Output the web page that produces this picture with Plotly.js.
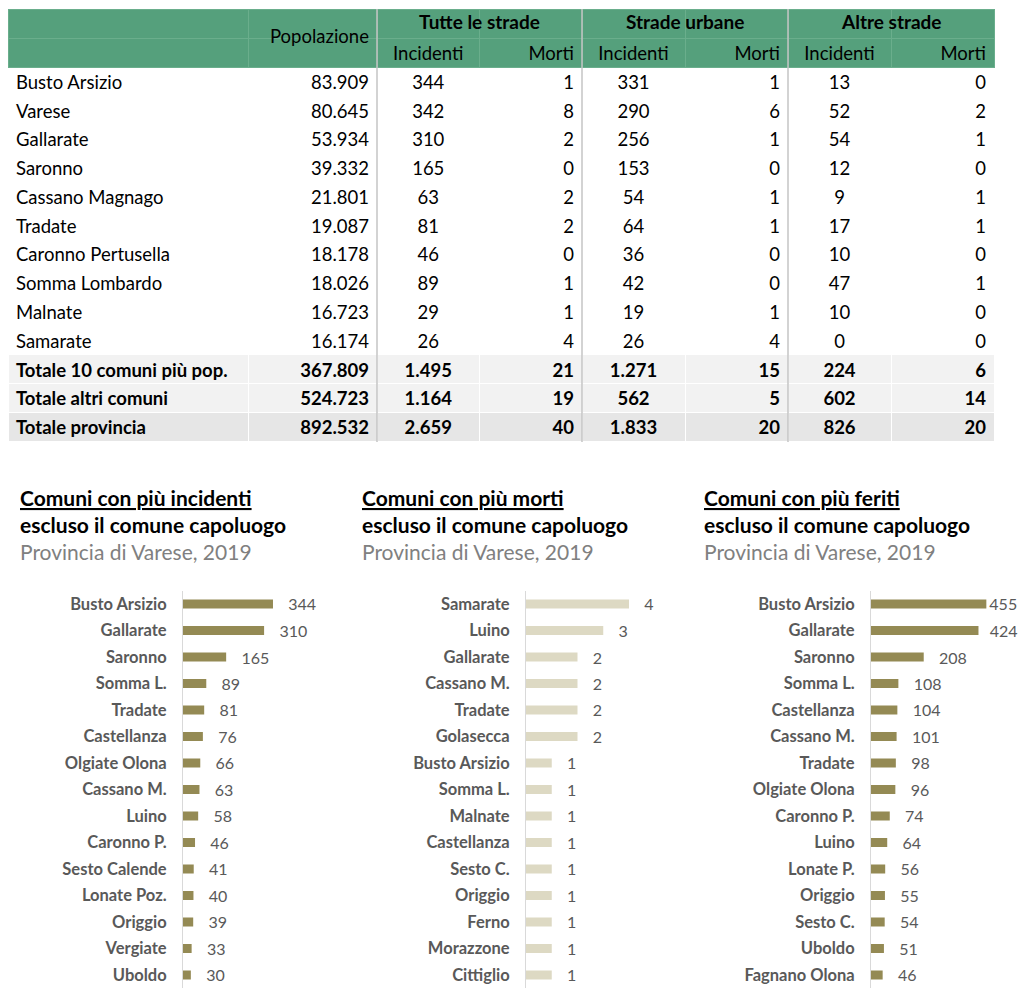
<!DOCTYPE html>
<html>
<head>
<meta charset="utf-8">
<script src="https://cdn.plot.ly/plotly-3.0.1.min.js"></script>
<style>html,body{margin:0;padding:0;background:#fff;}#chart{width:1024px;height:993px;}</style>
</head>
<body>
<div id="chart"></div>
<script>
// ---------- Table data ----------
const comuni = ["Busto Arsizio","Varese","Gallarate","Saronno","Cassano Magnago","Tradate","Caronno Pertusella","Somma Lombardo","Malnate","Samarate","Totale 10 comuni più pop.","Totale altri comuni","Totale provincia"];
const popolazione = [83909,80645,53934,39332,21801,19087,18178,18026,16723,16174,367809,524723,892532];
const tutteIncidenti = [344,342,310,165,63,81,46,89,29,26,1495,1164,2659];
const tutteMorti = [1,8,2,0,2,2,0,1,1,4,21,19,40];
const urbaneIncidenti = [331,290,256,153,54,64,36,42,19,26,1271,562,1833];
const urbaneMorti = [1,6,1,0,1,1,0,0,1,4,15,5,20];
const altreIncidenti = [13,52,54,12,9,17,10,47,10,0,224,602,826];
const altreMorti = [0,2,1,0,1,1,0,1,0,0,6,14,20];
const groupLabels = ["Tutte le strade","Strade urbane","Altre strade"];
const subLabels = ["Incidenti","Morti"];
const popLabel = "Popolazione";

// ---------- Bar chart data ----------
const incComuni = ["Busto Arsizio","Gallarate","Saronno","Somma L.","Tradate","Castellanza","Olgiate Olona","Cassano M.","Luino","Caronno P.","Sesto Calende","Lonate Poz.","Origgio","Vergiate","Uboldo"];
const incValori = [344,310,165,89,81,76,66,63,58,46,41,40,39,33,30];
const mortiComuni = ["Samarate","Luino","Gallarate","Cassano M.","Tradate","Golasecca","Busto Arsizio","Somma L.","Malnate","Castellanza","Sesto C.","Origgio","Ferno","Morazzone","Cittiglio"];
const mortiValori = [4,3,2,2,2,2,1,1,1,1,1,1,1,1,1];
const feritiComuni = ["Busto Arsizio","Gallarate","Saronno","Somma L.","Castellanza","Cassano M.","Tradate","Olgiate Olona","Caronno P.","Luino","Lonate P.","Origgio","Sesto C.","Uboldo","Fagnano Olona"];
const feritiValori = [455,424,208,108,104,101,98,96,74,64,56,55,54,51,46];
const titoli = [
  ["Comuni con più incidenti","escluso il comune capoluogo","Provincia di Varese, 2019"],
  ["Comuni con più morti","escluso il comune capoluogo","Provincia di Varese, 2019"],
  ["Comuni con più feriti","escluso il comune capoluogo","Provincia di Varese, 2019"]
];

// ---------- helpers ----------
const W = 1024, H = 993;
const px = x => x / W;
const py = y => 1 - y / H;
const FONT = "Lato";
const TFS = 18.5;
const fmt = n => String(n).replace(/\B(?=(\d{3})+(?!\d))/g, ".");
const isTot = i => i >= 10;

const numCols = [popolazione, tutteIncidenti, tutteMorti, urbaneIncidenti, urbaneMorti, altreIncidenti, altreMorti];
const cellValues = [comuni.slice()].concat(numCols.map(col => col.map(v => fmt(v))));
const rowColors = comuni.map((_, i) => i < 10 ? "#ffffff" : (i < 12 ? "#f2f2f2" : "#e6e6e6"));
const rowWeights = comuni.map((_, i) => isTot(i) ? "bold" : "normal");
const fillColors = cellValues.map(() => rowColors);
const weights = cellValues.map(() => rowWeights);
const aligns = ["left","right","center","right","center","right","center","right"];

const headerValues = [[" "," "],[" "," "]];
for (let g = 0; g < 3; g++) { headerValues.push([" ", subLabels[0]]); headerValues.push([" ", subLabels[1]]); }

const tableTrace = {
  type: "table",
  domain: { x: [px(8), px(994)], y: [py(452), py(9)] },
  columnwidth: [240, 129, 102.5, 102.5, 103, 103, 103, 103],
  header: {
    values: headerValues,
    align: aligns,
    height: 29,
    fill: { color: "#55a07c" },
    line: { color: "#6aae8c", width: 1 },
    font: { family: FONT, size: TFS, color: "#000000" }
  },
  cells: {
    values: cellValues,
    align: aligns,
    height: 28.77,
    fill: { color: fillColors },
    line: { color: "#ffffff", width: 1 },
    font: { family: FONT, size: TFS, color: "#000000", weight: weights }
  }
};

// ---------- bar panels ----------
const rowTop = 590.75, rowBot = 988.25;
const panels = [
  { cats: incComuni, vals: incValori, color: "#948a54", x0: 183, scale: 0.2616, x1: 350, pad: null },
  { cats: mortiComuni, vals: mortiValori, color: "#ddd9c3", x0: 526, scale: 25.75, x1: 690, pad: null },
  { cats: feritiComuni, vals: feritiValori, color: "#948a54", x0: 871, scale: 0.2535, x1: 1020, pad: ["", "  "] }
];

const traces = [tableTrace];
const layout = {
  width: W, height: H,
  margin: { l: 0, r: 0, t: 0, b: 0 },
  paper_bgcolor: "#ffffff",
  plot_bgcolor: "rgba(0,0,0,0)",
  showlegend: false,
  font: { family: FONT, color: "#000000" },
  bargap: 0.66,
  annotations: [],
  shapes: []
};

panels.forEach((p, k) => {
  const ax = k === 0 ? "" : String(k + 1);
  const tt = p.vals.map((_, i) => (p.pad && i < p.pad.length ? p.pad[i] : "   ") + "%{x}");
  traces.push({
    type: "bar",
    orientation: "h",
    x: p.vals,
    y: p.cats,
    xaxis: "x" + ax,
    yaxis: "y" + ax,
    marker: { color: p.color },
    texttemplate: tt,
    textposition: "outside",
    constraintext: "none",
    cliponaxis: false,
    textfont: { family: FONT, size: 16, color: "#595959" },
    hoverinfo: "skip"
  });
  layout["xaxis" + ax] = {
    domain: [px(p.x0), px(p.x1)],
    range: [0, (p.x1 - p.x0) / p.scale],
    visible: false,
    anchor: "y" + ax,
    fixedrange: true
  };
  layout["yaxis" + ax] = {
    domain: [py(rowBot), py(rowTop)],
    type: "category",
    range: [p.cats.length - 0.5, -0.5],
    anchor: "x" + ax,
    showline: true,
    linecolor: "#d9d9d9",
    linewidth: 1,
    showgrid: false,
    ticks: "",
    ticklabelstandoff: 12,
    tickfont: { family: FONT, size: 16.5, color: "#595959", weight: "bold" },
    fixedrange: true
  };
});

// titles of bar panels
const titleX = [18, 360, 702];
const TT = 21;
titoli.forEach((t, k) => {
  layout.annotations.push({ xref: "paper", yref: "paper", x: px(titleX[k]), y: py(497), xanchor: "left", yanchor: "middle", showarrow: false, text: "<b><u>" + t[0] + "</u></b>", font: { family: FONT, size: TT, color: "#000000" } });
  layout.annotations.push({ xref: "paper", yref: "paper", x: px(titleX[k]), y: py(524), xanchor: "left", yanchor: "middle", showarrow: false, text: "<b>" + t[1] + "</b>", font: { family: FONT, size: TT, color: "#000000" } });
  layout.annotations.push({ xref: "paper", yref: "paper", x: px(titleX[k]), y: py(551), xanchor: "left", yanchor: "middle", showarrow: false, text: t[2], font: { family: FONT, size: TT, color: "#808080" } });
});

// table group headings
const groupCenters = [479.5, 685, 891];
groupLabels.forEach((g, k) => {
  layout.annotations.push({ xref: "paper", yref: "paper", x: px(groupCenters[k]), y: py(22), xanchor: "center", yanchor: "middle", showarrow: false, text: "<b>" + g + "</b>", font: { family: FONT, size: 19, color: "#000000" } });
});
layout.annotations.push({ xref: "paper", yref: "paper", x: px(371), y: py(36), xanchor: "right", yanchor: "middle", showarrow: false, text: popLabel, font: { family: FONT, size: TFS, color: "#000000" } });

// vertical separators of the table
[377, 582, 788].forEach(x => {
  layout.shapes.push({ type: "line", xref: "paper", yref: "paper", x0: px(x), x1: px(x), y0: py(442), y1: py(9), line: { color: "#c4c4c4", width: 1.5 }, layer: "above" });
});

Plotly.newPlot("chart", traces, layout, { staticPlot: true, displayModeBar: false });
</script>
</body>
</html>
